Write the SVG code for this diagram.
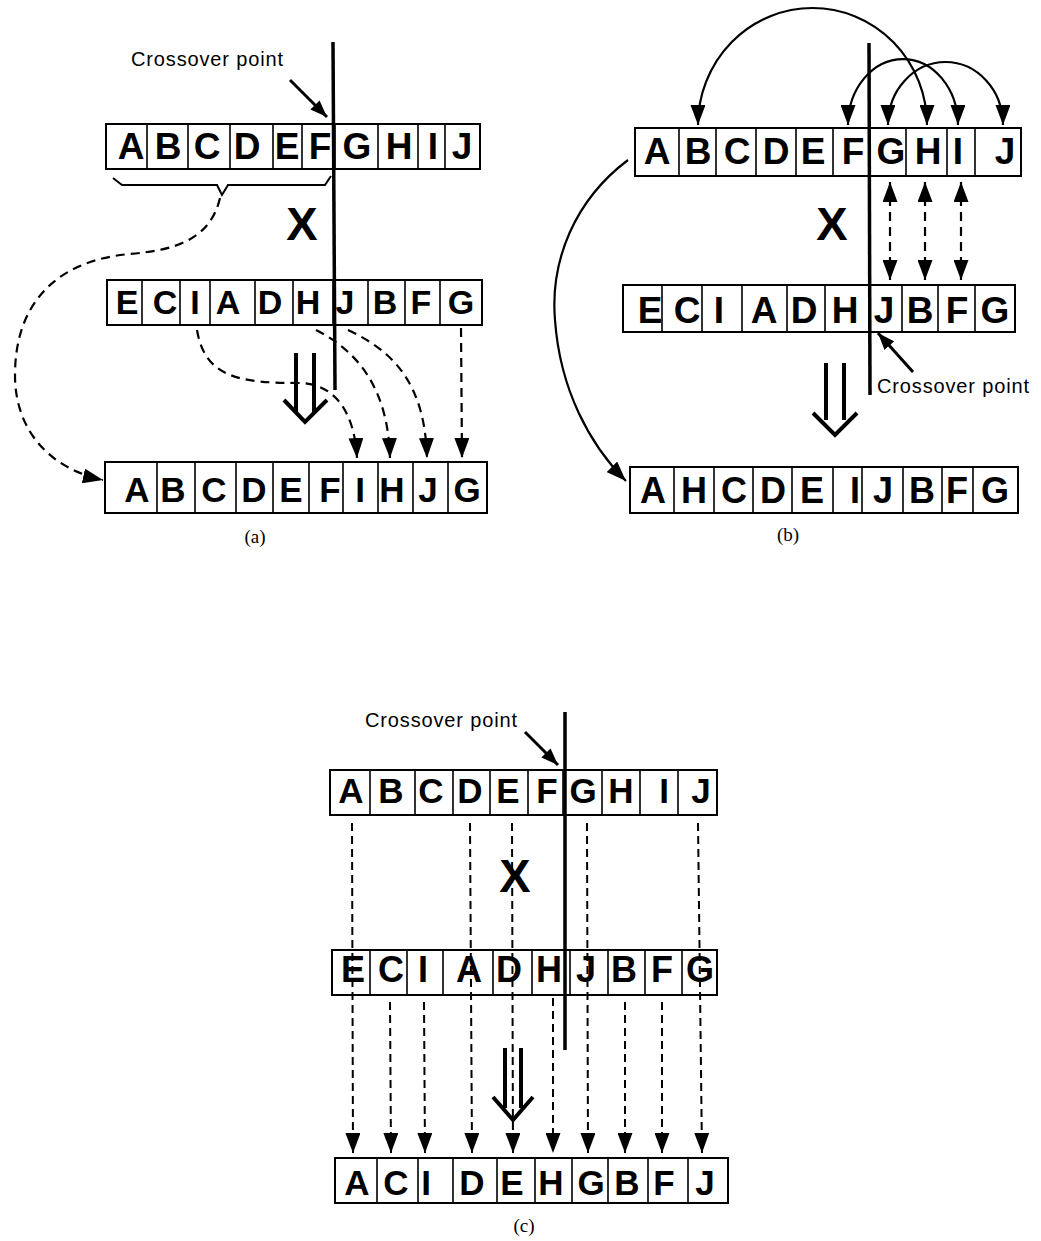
<svg xmlns="http://www.w3.org/2000/svg" width="1041" height="1241" viewBox="0 0 1041 1241">
<style>
.box{fill:#fff;stroke:#000;stroke-width:2}
.dv{stroke:#000;stroke-width:1.6}
.lt{font-family:"Liberation Sans",Arial,sans-serif;font-weight:bold;text-anchor:middle;fill:#000}
.x{font-family:"Liberation Sans",Arial,sans-serif;font-weight:bold;font-size:47px;text-anchor:middle;fill:#000}
.cap{font-family:"Liberation Sans",Arial,sans-serif;font-size:20px;letter-spacing:0.85px;fill:#000}
.lab{font-family:"Liberation Serif","Times New Roman",serif;font-size:19px;text-anchor:middle;fill:#000}
.cross{stroke:#000;stroke-width:3.5;fill:none}
.solid{stroke:#000;stroke-width:2.2;fill:none}
.dash{stroke:#000;stroke-width:2.2;fill:none;stroke-dasharray:9 6}
.dashc{stroke:#000;stroke-width:2;fill:none;stroke-dasharray:8 5}
.dbl{stroke:#000;stroke-width:4;fill:none}
</style>
<defs>
<marker id="ah" viewBox="0 0 20 15" refX="20" refY="7.5" markerWidth="20" markerHeight="15" markerUnits="userSpaceOnUse" orient="auto"><path d="M0,0 L20,7.5 L0,15 z" fill="#000" stroke="none"/></marker>
<marker id="ah2" viewBox="0 0 20 15" refX="20" refY="7.5" markerWidth="20" markerHeight="15" markerUnits="userSpaceOnUse" orient="auto-start-reverse"><path d="M0,0 L20,7.5 L0,15 z" fill="#000" stroke="none"/></marker>
<marker id="ahs" viewBox="0 0 17 13" refX="17" refY="6.5" markerWidth="17" markerHeight="13" markerUnits="userSpaceOnUse" orient="auto"><path d="M0,0 L17,6.5 L0,13 z" fill="#000" stroke="none"/></marker>
</defs>

<!-- ===== Panel (a) ===== -->
<g id="a-parent1">
<rect class="box" x="106" y="124" width="374" height="45"/>
<path class="dv" d="M147,124V169M188,124V169M230,124V169M273,124V169M302,124V169M335,124V169M378,124V169M418,124V169M445,124V169"/>
<g class="lt" font-size="37">
<text x="131" y="159">A</text><text x="168" y="159">B</text><text x="207" y="159">C</text><text x="247" y="159">D</text><text x="287" y="159">E</text><text x="320" y="159">F</text><text x="357" y="159">G</text><text x="399" y="159">H</text><text x="433" y="159">I</text><text x="462" y="159">J</text>
</g>
</g>
<g id="a-parent2">
<rect class="box" x="107" y="280" width="375" height="45"/>
<path class="dv" d="M142,280V325M180,280V325M210,280V325M255,280V325M293,280V325M333,280V325M368,280V325M405,280V325M440,280V325"/>
<g class="lt" font-size="34">
<text x="127" y="314">E</text><text x="165" y="314">C</text><text x="195" y="314">I</text><text x="228" y="314">A</text><text x="270" y="314">D</text><text x="308" y="314">H</text><text x="345" y="314">J</text><text x="385" y="314">B</text><text x="421" y="314">F</text><text x="461" y="314">G</text>
</g>
</g>
<g id="a-child">
<rect class="box" x="105" y="462" width="382" height="51"/>
<path class="dv" d="M157,462V513M195,462V513M236,462V513M273,462V513M309,462V513M343,462V513M378,462V513M413,462V513M448,462V513"/>
<g class="lt" font-size="35">
<text x="137" y="502">A</text><text x="173" y="502">B</text><text x="214" y="502">C</text><text x="254" y="502">D</text><text x="291" y="502">E</text><text x="330" y="502">F</text><text x="360" y="502">I</text><text x="392" y="502">H</text><text x="428" y="502">J</text><text x="467" y="502">G</text>
</g>
</g>
<g id="a-marks">
<text class="x" x="302" y="240">X</text>
<text class="cap" x="131" y="66">Crossover point</text>
<text class="lab" x="255" y="543">(a)</text>
<path class="dv" d="M296,353V413M314,353V413" style="stroke-width:4"/>
<path class="dbl" d="M284,400L305,422L327,400"/>
</g>

<!-- ===== Panel (b) ===== -->
<g id="b-parent1">
<rect class="box" x="635" y="128" width="386" height="48"/>
<path class="dv" d="M679,128V176M716,128V176M756,128V176M796,128V176M833,128V176M869,128V176M906,128V176M947,128V176M975,128V176"/>
<g class="lt" font-size="37">
<text x="657" y="164">A</text><text x="698" y="164">B</text><text x="737" y="164">C</text><text x="776" y="164">D</text><text x="813" y="164">E</text><text x="853" y="164">F</text><text x="891" y="164">G</text><text x="928" y="164">H</text><text x="958" y="164">I</text><text x="1005" y="164">J</text>
</g>
</g>
<g id="b-parent2">
<rect class="box" x="623" y="285" width="392" height="47"/>
<path class="dv" d="M662,285V332M702,285V332M742,285V332M787,285V332M825,285V332M869,285V332M902,285V332M938,285V332M975,285V332"/>
<g class="lt" font-size="37">
<text x="650" y="323">E</text><text x="687" y="323">C</text><text x="719" y="323">I</text><text x="764" y="323">A</text><text x="804" y="323">D</text><text x="845" y="323">H</text><text x="884" y="323">J</text><text x="920" y="323">B</text><text x="957" y="323">F</text><text x="995" y="323">G</text>
</g>
</g>
<g id="b-child">
<rect class="box" x="630" y="467" width="388" height="46"/>
<path class="dv" d="M674,467V513M714,467V513M753,467V513M792,467V513M833,467V513M862,467V513M903,467V513M942,467V513M973,467V513"/>
<g class="lt" font-size="36">
<text x="653" y="503">A</text><text x="694" y="503">H</text><text x="734" y="503">C</text><text x="773" y="503">D</text><text x="812" y="503">E</text><text x="855" y="503">I</text><text x="883" y="503">J</text><text x="922" y="503">B</text><text x="957" y="503">F</text><text x="995" y="503">G</text>
</g>
</g>
<g id="b-marks">
<text class="x" x="832" y="240">X</text>
<text class="cap" x="877" y="393">Crossover point</text>
<text class="lab" x="788" y="541">(b)</text>
<path class="dv" d="M826,363V420M844,363V420" style="stroke-width:4"/>
<path class="dbl" d="M813,413L835,435L857,413"/>
</g>

<!-- ===== Panel (c) ===== -->
<g id="c-parent1">
<rect class="box" x="330" y="770" width="387" height="45"/>
<path class="dv" d="M370,770V815M415,770V815M453,770V815M490,770V815M528,770V815M563,770V815M602,770V815M640,770V815M678,770V815"/>
<g class="lt" font-size="35">
<text x="351" y="803">A</text><text x="391" y="803">B</text><text x="431" y="803">C</text><text x="470" y="803">D</text><text x="508" y="803">E</text><text x="547" y="803">F</text><text x="583" y="803">G</text><text x="621" y="803">H</text><text x="664" y="803">I</text><text x="701" y="803">J</text>
</g>
</g>
<g id="c-parent2">
<rect class="box" x="332" y="950" width="385" height="45"/>
<path class="dv" d="M370,950V995M407,950V995M443,950V995M493,950V995M532,950V995M570,950V995M608,950V995M645,950V995M682,950V995"/>
<g class="lt" font-size="36">
<text x="353" y="982">E</text><text x="391" y="982">C</text><text x="423" y="982">I</text><text x="469" y="982">A</text><text x="509" y="982">D</text><text x="549" y="982">H</text><text x="586" y="982">J</text><text x="624" y="982">B</text><text x="662" y="982">F</text><text x="700" y="982">G</text>
</g>
</g>
<g id="c-child">
<rect class="box" x="335" y="1158" width="393" height="45"/>
<path class="dv" d="M377,1158V1203M418,1158V1203M453,1158V1203M497,1158V1203M535,1158V1203M572,1158V1203M608,1158V1203M648,1158V1203M688,1158V1203"/>
<g class="lt" font-size="35">
<text x="357" y="1195">A</text><text x="396" y="1195">C</text><text x="426" y="1195">I</text><text x="472" y="1195">D</text><text x="512" y="1195">E</text><text x="551" y="1195">H</text><text x="591" y="1195">G</text><text x="627" y="1195">B</text><text x="664" y="1195">F</text><text x="705" y="1195">J</text>
</g>
</g>
<g id="c-marks">
<text class="x" x="515" y="892">X</text>
<text class="cap" x="365" y="727">Crossover point</text>
<text class="lab" x="524" y="1232">(c)</text>
<path class="dv" d="M505,1048V1108M521,1048V1108" style="stroke-width:4"/>
<path class="dbl" d="M493,1097L513,1120L533,1097"/>
</g>

<!-- ===== Connectors ===== -->
<g id="connectors">
<!-- (a) -->
<line class="cross" x1="333" y1="42" x2="335" y2="390"/>
<line class="solid" x1="290" y1="80" x2="327" y2="117" marker-end="url(#ahs)" style="stroke-width:3"/>
<path class="solid" d="M113,178L122,185L217,185L222,195L228,185L325,185L331,176" style="stroke-width:2"/>
<path class="dash" d="M220,198C210,240 175,250 130,254C60,260 15,300 15,375C15,435 55,470 103,480" marker-end="url(#ah)"/>
<path class="dash" d="M197,330C205,378 240,383 300,383C340,384 355,420 357,458" marker-end="url(#ah)"/>
<path class="dash" d="M316,330C355,350 388,385 390,458" marker-end="url(#ah)"/>
<path class="dash" d="M348,330C395,352 425,385 427,458" marker-end="url(#ah)"/>
<path class="dash" d="M461,328L462,458" marker-end="url(#ah)"/>
<!-- (b) -->
<line class="cross" x1="869" y1="43" x2="870" y2="395"/>
<line class="solid" x1="913" y1="372" x2="878" y2="333" marker-end="url(#ahs)" style="stroke-width:3"/>
<path class="solid" d="M698,125A114.5,117 0 0 1 927,125" marker-start="url(#ah2)" marker-end="url(#ah2)"/>
<path class="solid" d="M848,125A55,66 0 0 1 958,125" marker-start="url(#ah2)" marker-end="url(#ah2)"/>
<path class="solid" d="M888,125A57.5,63 0 0 1 1003,125" marker-start="url(#ah2)" marker-end="url(#ah2)"/>
<path class="dash" d="M890,182V280" marker-start="url(#ah2)" marker-end="url(#ah2)"/>
<path class="dash" d="M925,182V280" marker-start="url(#ah2)" marker-end="url(#ah2)"/>
<path class="dash" d="M961,182V280" marker-start="url(#ah2)" marker-end="url(#ah2)"/>
<path class="solid" d="M628,160C575,200 550,260 555,320C560,390 590,445 626,481" marker-end="url(#ah)"/>
<!-- (c) -->
<line class="cross" x1="565" y1="712" x2="565" y2="1050"/>
<line class="solid" x1="525" y1="732" x2="558" y2="765" marker-end="url(#ahs)" style="stroke-width:3"/>
<path class="dashc" d="M352,823L353,1153" marker-end="url(#ah)"/>
<path class="dashc" d="M470,823L472,1153" marker-end="url(#ah)"/>
<path class="dashc" d="M512,823L513,1153" marker-end="url(#ah)"/>
<path class="dashc" d="M587,823L588,1153" marker-end="url(#ah)"/>
<path class="dashc" d="M698,823L702,1153" marker-end="url(#ah)"/>
<path class="dashc" d="M390,1002L391,1153" marker-end="url(#ah)"/>
<path class="dashc" d="M424,1002L425,1153" marker-end="url(#ah)"/>
<path class="dashc" d="M553,998L553,1153" marker-end="url(#ah)"/>
<path class="dashc" d="M625,1002L625,1153" marker-end="url(#ah)"/>
<path class="dashc" d="M662,1002L662,1153" marker-end="url(#ah)"/>
</g>
</svg>
